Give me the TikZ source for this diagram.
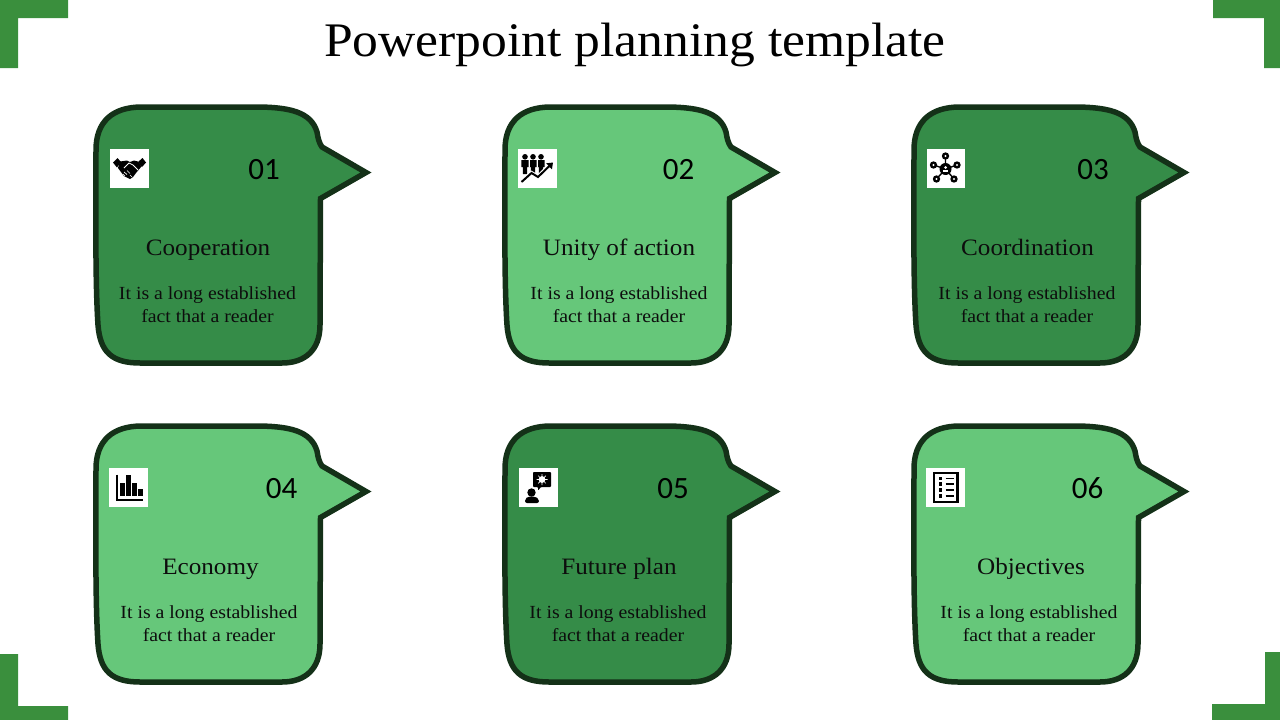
\documentclass[tikz,border=0pt]{standalone}
\usepackage{fontspec}
\setmainfont{Liberation Serif}[FakeStretch=1.07]
\newfontfamily\numfont{Carlito}
\usetikzlibrary{arrows.meta}
\definecolor{darkfill}{HTML}{358C48}
\definecolor{lightfill}{HTML}{66C77A}
\definecolor{edgecol}{HTML}{143118}
\definecolor{cornercol}{HTML}{3A8F3D}
\tikzset{
  x=1pt,y=-1pt,
  bubble/.style={draw=edgecol,line width=5.5pt,line join=miter,miter limit=10},
  corner/.style={fill=cornercol,draw=none},
  iconbox/.style={fill=white,draw=none,minimum size=39pt,inner sep=0pt,outer sep=0pt,anchor=north west},
  numlabel/.style={anchor=base,inner sep=0pt,font=\numfont\fontsize{31}{31}\selectfont},
  headlabel/.style={anchor=base,inner sep=0pt,font=\fontsize{23.5}{24}\selectfont,text=black!95},
  bodylabel/.style={anchor=north,inner sep=0pt,align=center,font=\fontsize{18.5}{23}\selectfont,text=black!95},
  ico/.style={black,line cap=butt},
}
\newcommand{\bubbleat}[3]{%
  \draw[bubble,fill=#3,shift={(#1,#2)}]
    (322,147) -- (366,172.5) -- (320.5,198.5) -- (320,325)
    .. controls (320,350) and (305,363) .. (282,363)
    -- (140,363)
    .. controls (112,363) and (100,352) .. (98,325)
    .. controls (95,280) and (96,200) .. (96,150)
    .. controls (96,122) and (112,107) .. (142,107)
    -- (255,107)
    .. controls (290,107) and (311,112) .. (317,132)
    .. controls (318,138) and (319,143) .. (322,147) -- cycle;}
\begin{document}
\begin{tikzpicture}
\useasboundingbox (0,0) rectangle (1280,720);
% frame corners
\fill[corner] (0,0) -| (68,18) -| (18,68) -| cycle;
\fill[corner] (1213,0) -| (1280,68) -| (1264,18) -| cycle;
\fill[corner] (0,654) -| (18,706) -| (68,720) -| cycle;
\fill[corner] (1265,652) -| (1280,720) -| (1212,704) -| cycle;
\node[anchor=base,inner sep=0pt,font=\fontsize{48.2}{50}\selectfont] (title) at (635,56.5) {Powerpoint planning template};
% bubbles
\bubbleat{0}{0}{darkfill}
\bubbleat{409}{0}{lightfill}
\bubbleat{818}{0}{darkfill}
\bubbleat{0}{319}{lightfill}
\bubbleat{409}{319}{darkfill}
\bubbleat{818}{319}{lightfill}
% icon tiles
\node[iconbox] (t1) at (110,149) {};
\node[iconbox] (t2) at (518,149) {};
\node[iconbox,minimum width=38pt] (t3) at (927,149) {};
\node[iconbox] (t4) at (109,468) {};
\node[iconbox] (t5) at (519,468) {};
\node[iconbox] (t6) at (926,468) {};
% handshake
\begin{scope}[shift={(110,149)}]
  \fill[ico] (3,13.5) -- (7.5,9) -- (11,13) -- (7,18.5) -- cycle;
  \fill[ico] (28,13) -- (32.5,9) -- (36,13.5) -- (32,18) -- cycle;
  \fill[ico] (10,12.5) -- (17,11.5) -- (20,13) -- (24,11.5) -- (28,12.5) -- (31.5,17.5)
    -- (26,24) -- (23,28) -- (20,30) -- (14,27) -- (8,19) -- cycle;
  \draw[white,line width=.8pt] (14,19) -- (19,14) -- (23,16) -- (28,21);
  \draw[white,line width=.7pt] (14,23) -- (17,25.5) (17,21.5) -- (20,24.5) (20,26) -- (22,28) (13,25) -- (15,27);
\end{scope}
% people and rising arrow
\begin{scope}[shift={(518,149)}]
  \foreach \px in {7,15,23}{
    \fill[ico] (\px,7.8) circle (2.8);
    \fill[ico] (\px-3.6,11) -- (\px+3.6,11) -- (\px+3.6,18) -- (\px+2.2,18) -- (\px+2,25) -- (\px-2,25) -- (\px-2.2,18) -- (\px-3.6,18) -- cycle;
  }
  \draw[white,line width=.8pt] (11,11) -- (11,18) (19,11) -- (19,18);
  \draw[white,line width=4pt] (3.5,33) -- (13.5,24) -- (20,28) -- (31,17);
  \draw[ico,line width=2pt,-{Triangle[length=5.5pt,width=8pt]}] (3.5,33) -- (13.5,24) -- (20,28) -- (35,13.5);
\end{scope}
% network
\begin{scope}[shift={(927,149)}]
  \draw[ico,line width=1.4pt] (18.5,20) -- (18.5,7) (18.5,20) -- (30,16) (18.5,20) -- (27,30) (18.5,20) -- (9.5,30) (18.5,20) -- (6.5,16);
  \fill[ico] (18.5,20) circle (6);
  \fill[white] (18.5,18.5) circle (1.5);
  \fill[white] (15.6,23) rectangle (21.4,20.8);
  \foreach \sx/\sy in {18.5/7,30/16,27/30,9.5/30,6.5/16}{
    \fill[ico] (\sx,\sy) circle (3.7);
    \fill[white] (\sx,\sy) circle (1.2);
  }
\end{scope}
% bar chart
\begin{scope}[shift={(109,468)}]
  \draw[ico,line width=2pt] (7.5,6.5) -- (7.5,31.5) -- (33.5,31.5);
  \fill[ico] (11.2,14.5) rectangle (16,28);
  \fill[ico] (17.2,6.5) rectangle (22,28);
  \fill[ico] (23.2,14.5) rectangle (28,28);
  \fill[ico] (29,21) rectangle (33.7,28);
\end{scope}
% presenter with idea
\begin{scope}[shift={(519,468)}]
  \fill[ico,rounded corners=.8pt] (14,4) -- (32,4) -- (32,19) -- (22,19) -- (19,22.5) -- (19,19) -- (14,19) -- cycle;
  \fill[white] (23,11.5) circle (3.4);
  \draw[white,line width=.7pt] (23,6) -- (23,17) (17.5,11.5) -- (28.5,11.5) (19.2,7.7) -- (26.8,15.3) (19.2,15.3) -- (26.8,7.7);
  \fill[ico] (12.5,24.5) circle (4.2);
  \fill[ico,rounded corners=2pt] (6,35) -- (6,31) -- (9,28.5) -- (16,28.5) -- (20,31) -- (20,35) -- cycle;
\end{scope}
% checklist
\begin{scope}[shift={(926,468)}]
  \draw[ico,line width=2.2pt] (8,5) rectangle (31.5,34);
  \foreach \ly in {10.5,16,22,28}{
    \fill[ico] (12.8,\ly-1.8) rectangle (16.4,\ly+1.8);
    \draw[ico,line width=1.3pt] (19.5,\ly) -- (27.5,\ly);
  }
\end{scope}
% numbers
\node[numlabel] (n1) at (264,179.5) {01};
\node[numlabel] (n2) at (678.5,179.5) {02};
\node[numlabel] (n3) at (1093,179.5) {03};
\node[numlabel] (n4) at (281.5,498.5) {04};
\node[numlabel] (n5) at (673,498.5) {05};
\node[numlabel] (n6) at (1087.5,498.5) {06};
% headings
\node[headlabel] (h1) at (208,255) {Cooperation};
\node[headlabel] (h2) at (619,255) {Unity of action};
\node[headlabel] (h3) at (1027.5,255) {Coordination};
\node[headlabel] (h4) at (210.5,574) {Economy};
\node[headlabel] (h5) at (619,574) {Future plan};
\node[headlabel] (h6) at (1031,574) {Objectives};
% bodies
\node[bodylabel] (b1) at (207.5,286) {It is a long established\\fact that a reader};
\node[bodylabel] (b2) at (619,286) {It is a long established\\fact that a reader};
\node[bodylabel] (b3) at (1027,286) {It is a long established\\fact that a reader};
\node[bodylabel] (b4) at (209,605) {It is a long established\\fact that a reader};
\node[bodylabel] (b5) at (618,605) {It is a long established\\fact that a reader};
\node[bodylabel] (b6) at (1029,605) {It is a long established\\fact that a reader};
\end{tikzpicture}
\end{document}
